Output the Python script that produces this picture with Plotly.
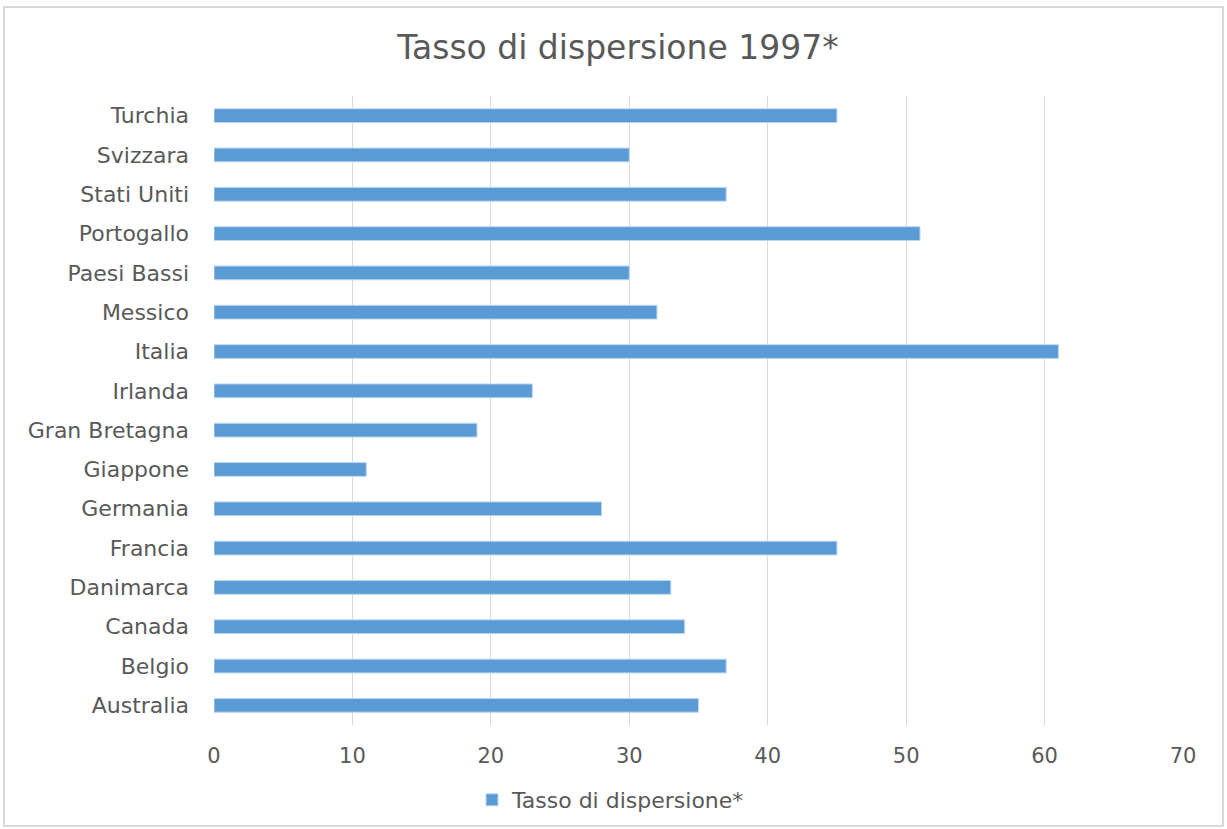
import plotly.graph_objects as go

countries = ["Australia", "Belgio", "Canada", "Danimarca", "Francia", "Germania",
             "Giappone", "Gran Bretagna", "Irlanda", "Italia", "Messico",
             "Paesi Bassi", "Portogallo", "Stati Uniti", "Svizzara", "Turchia"]
values = [35, 37, 34, 33, 45, 28, 11, 19, 23, 61, 32, 30, 51, 37, 30, 45]
x_ticks = [0, 10, 20, 30, 40, 50, 60, 70]

W, H = 1227, 829
L, R, T, B = 214, 44, 96, 104
pw, ph = W - L - R, H - T - B

def px_x(p):
    return (p - L) / pw

def px_y(p):
    return (H - B - p) / ph

FONT = "DejaVu Sans"
TXT = "#595959"

fig = go.Figure()
fig.add_trace(go.Bar(
    y=countries, x=values, orientation="h",
    name="Tasso di dispersione*",
    marker=dict(color="#5B9BD5", line=dict(color="#BDD7EE", width=1)),
    width=0.35,
))

fig.update_layout(
    width=W, height=H,
    margin=dict(l=L, r=R, t=T, b=B, autoexpand=False),
    paper_bgcolor="white", plot_bgcolor="white",
    font=dict(family=FONT, color=TXT, size=20),
    title=dict(text="Tasso di dispersione 1997*", x=618 / W, xref="container",
               xanchor="center", y=1 - 47 / H, yref="container", yanchor="middle",
               font=dict(family=FONT, size=33, color=TXT)),
    xaxis=dict(range=[0, 70], tickvals=x_ticks, ticktext=[str(v) for v in x_ticks],
               showgrid=True, gridcolor="#D9D9D9", gridwidth=1,
               zeroline=False, showline=False,
               ticks="", ticklabelstandoff=16,
               tickfont=dict(family=FONT, size=21, color=TXT)),
    yaxis=dict(type="category", categoryorder="array", categoryarray=countries,
               showgrid=False, zeroline=False, showline=False,
               ticks="", ticklabelstandoff=24,
               tickfont=dict(family=FONT, size=22, color=TXT)),
    showlegend=True,
    legend=dict(orientation="h", x=px_x(472), xanchor="left",
                y=px_y(800), yanchor="middle",
                font=dict(family=FONT, size=22, color=TXT),
                bgcolor="rgba(0,0,0,0)"),
    bargap=0.65,
    shapes=[dict(type="rect", xref="paper", yref="paper",
                 x0=px_x(4), x1=px_x(1223), y0=px_y(826), y1=px_y(7),
                 line=dict(color="#D9D9D9", width=2), layer="below")],
)

fig.write_html("out.html")
